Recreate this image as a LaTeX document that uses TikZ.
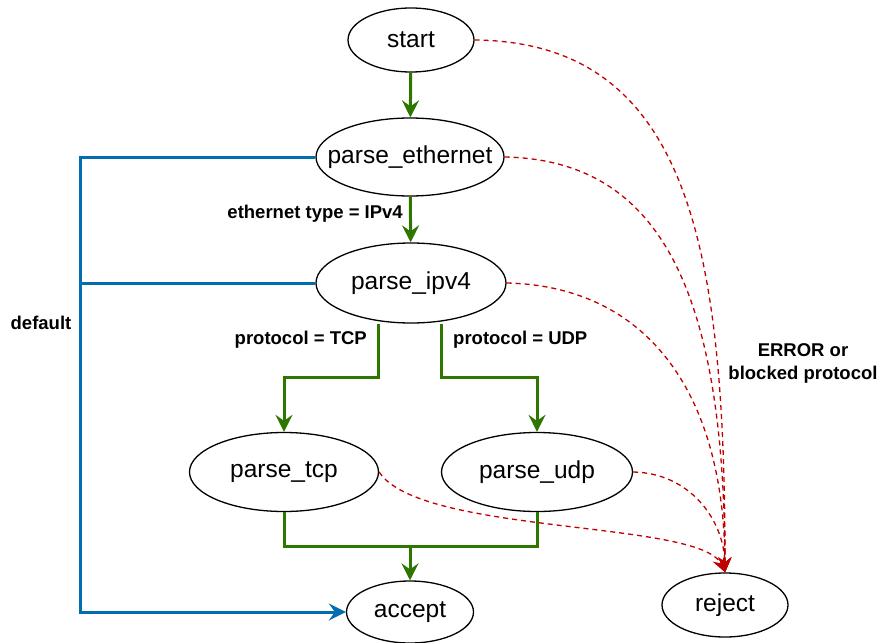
\documentclass[tikz,border=0pt]{standalone}
\usepackage{fontspec}
\setmainfont{Liberation Sans}
\usetikzlibrary{shapes.geometric,arrows.meta}

\definecolor{okgreen}{HTML}{2D7600}
\definecolor{defblue}{HTML}{006EAF}
\definecolor{errred}{HTML}{C00000}

% zero-width box so the ellipse size is set by minimum width/height only
\newcommand\statetext[1]{\makebox[0pt]{#1}}

\tikzset{
  state/.style={ellipse, draw=black, line width=1.3pt, inner sep=0pt,
    font=\fontsize{24.5}{28}\selectfont},
  okflow/.style={draw=okgreen, line width=3pt,
    -{Stealth[length=17pt,width=17pt,inset=6pt]}},
  okjoin/.style={draw=okgreen, line width=3pt},
  defflow/.style={draw=defblue, line width=3pt,
    -{Stealth[length=17pt,width=17pt,inset=6pt]}},
  defjoin/.style={draw=defblue, line width=3pt},
  errflow/.style={draw=errred, line width=1.3pt, dash pattern=on 5pt off 4pt,
    -{Stealth[length=15pt,width=13pt,inset=5pt]}},
  edgelabel/.style={font=\bfseries\fontsize{18.5}{22}\selectfont, inner sep=0pt},
}

\begin{document}
\begin{tikzpicture}[x=1pt, y=-1pt]
\useasboundingbox (0,0) rectangle (880,642);

% states
\node[state, minimum width=126pt, minimum height=64pt] (start) at (411,40) {\statetext{start}};
\node[state, minimum width=188pt, minimum height=78pt] (eth) at (410,157) {\statetext{parse\_ethernet}};
\node[state, minimum width=190pt, minimum height=80pt] (ipv4) at (411,283) {\statetext{parse\_ipv4}};
\node[state, minimum width=189pt, minimum height=79pt] (tcp) at (284,472) {\statetext{parse\_tcp}};
\node[state, minimum width=191pt, minimum height=79pt] (udp) at (537,472) {\statetext{parse\_udp}};
\node[state, minimum width=127pt, minimum height=62pt] (accept) at (410,612) {\statetext{accept}};
\node[state, minimum width=126pt, minimum height=64pt] (reject) at (725,605) {\statetext{reject}};

% helper points
\coordinate (tcpsplit) at (378,377);
\coordinate (udpsplit) at (441,377);
\coordinate (merge) at (410,546);
\coordinate (defcol) at (80,0);

% accepted path
\draw[okflow] (start) -- (eth);
\draw[okflow] (eth) -- (ipv4);
\draw[okflow] (ipv4.south -| tcpsplit) |- (tcpsplit -| tcp) -- (tcp);
\draw[okflow] (ipv4.south -| udpsplit) |- (udpsplit -| udp) -- (udp);
\draw[okjoin] (tcp.south) |- (merge -| udp) -- (udp.south);
\draw[okflow] (merge) -- (accept);

% default path
\draw[defflow] (eth.west) -| (defcol |- accept) -- (accept.west);
\draw[defjoin] (ipv4.west) -- (defcol |- ipv4);

% error path
\draw[errflow] (start.east) .. controls (690,42) and (725,250) .. (reject.north);
\draw[errflow] (eth.east) .. controls (665,160) and (724,300) .. (reject.north);
\draw[errflow] (ipv4.east) .. controls (645,286) and (724,390) .. (reject.north);
\draw[errflow] (udp.east) .. controls (690,473) and (724,520) .. (reject.north);
\draw[errflow] (tcp.east) .. controls (420,535) and (700,520) .. (reject.north);

% labels
\node[edgelabel, anchor=east] (lbleth) at (403,214) {ethernet type = IPv4};
\node[edgelabel, anchor=east] (lbltcp) at (367,340) {protocol = TCP};
\node[edgelabel, anchor=west] (lbludp) at (453,340) {protocol = UDP};
\node[edgelabel] (lbldef) at (41,323) {default};
\node[edgelabel, align=center, font=\bfseries\fontsize{18.5}{23}\selectfont] (lblerr) at (803,363) {ERROR or\\blocked protocol};
\end{tikzpicture}
\end{document}
